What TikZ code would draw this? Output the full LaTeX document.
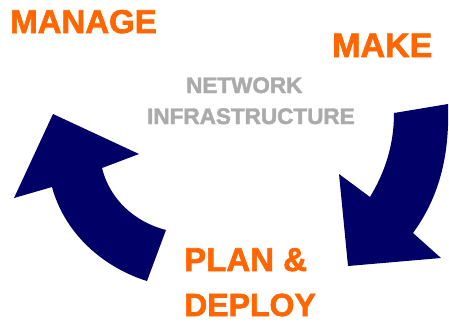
\documentclass[tikz,border=0pt]{standalone}
\usepackage{fontspec}
\setmainfont[BoldFeatures={FakeBold=2}]{Liberation Sans}
\usetikzlibrary{calc}
\definecolor{cycleorange}{HTML}{FF6600}
\definecolor{cyclenavy}{HTML}{000066}
\definecolor{hubgray}{HTML}{ABABAB}
\tikzset{
  stagetext/.style={inner sep=0pt, text depth=0pt, anchor=base west, text=cycleorange, font=\bfseries\fontsize{33}{33}\selectfont},
  hubtext/.style={inner sep=0pt, text depth=0pt, anchor=base west, text=hubgray, font=\bfseries\fontsize{22.5}{22.5}\selectfont},
  bigarrow/.style={fill=cyclenavy, draw=none}
}
\begin{document}
\begin{tikzpicture}[x=1pt, y=-1pt]
  \useasboundingbox (0,0) rectangle (449,322);

  \node [stagetext] (manage) at (10,33) {MANAGE};
  \node [stagetext, font=\bfseries\fontsize{34}{34}\selectfont] (make) at (332,57) {MAKE};
  \node [stagetext] (plan) at (184,271) {PLAN \&};
  \node [stagetext, font=\bfseries\fontsize{32}{32}\selectfont] (deploy) at (184,316) {DEPLOY};
  \node [hubtext] (network) at (186,93) {NETWORK};
  \node [hubtext] (infra) at (147,124) {INFRASTRUCTURE};

  % left arrow, up towards MANAGE
  \coordinate (LT) at (53,114);
  \coordinate (LR) at (139,154);
  \coordinate (LRi) at (102,168);
  \coordinate (LA) at (166,230);
  \coordinate (LB) at (147,281);
  \coordinate (LLi) at (52,187);
  \coordinate (LL) at (14,198);
  \fill [bigarrow] (LT) -- (LR) -- (LRi)
    .. controls (110,200) and (135,222) .. (LA) -- (LB)
    .. controls (105,268) and (65,235) .. (LLi) -- (LL) -- cycle;

  % right arrow, down towards PLAN & DEPLOY
  \coordinate (RA) at (394,113);
  \coordinate (RB) at (448,104);
  \coordinate (RRi) at (413,233);
  \coordinate (RR) at (441,258);
  \coordinate (RT) at (348,266);
  \coordinate (RL) at (339,174);
  \coordinate (RLi) at (370,197);
  \fill [bigarrow] (RA) -- (RB)
    .. controls (450,160) and (437,200) .. (RRi) -- (RR) -- (RT) -- (RL) -- (RLi)
    .. controls (385,172) and (394,145) .. cycle;
\end{tikzpicture}
\end{document}
